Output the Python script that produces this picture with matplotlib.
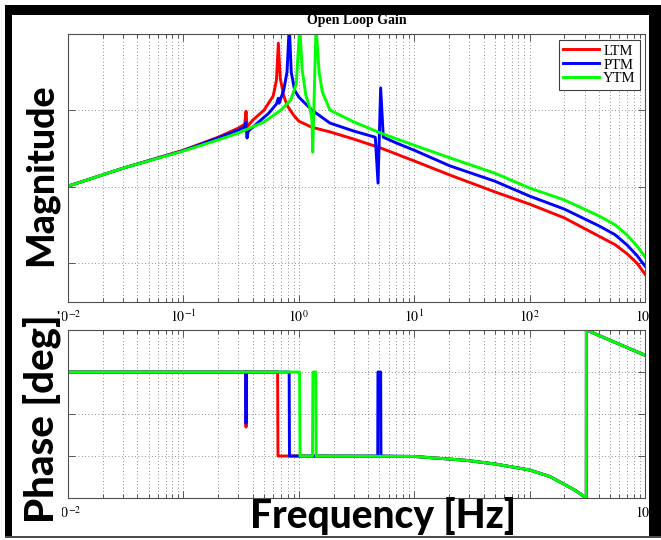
import matplotlib
matplotlib.use('Agg')
import matplotlib.pyplot as plt
from matplotlib.patches import Rectangle
from matplotlib.ticker import LogLocator, NullFormatter

plt.rcParams['font.family'] = 'Liberation Serif'
plt.rcParams['mathtext.fontset'] = 'stix'

# magnitude in dB (0 dB = upper grid line)
f_ltm = [0.01, 0.03, 0.1, 0.2, 0.3, 0.34, 0.349, 0.356, 0.4, 0.5, 0.6, 0.64, 0.665,
         0.69, 0.74, 0.8, 0.9, 1.0, 1.3, 1.86, 3.0, 5.1, 10, 20.4, 50, 100, 200, 400,
         550, 700, 850, 1000]
mag_ltm = [-19.9, -15.2, -10.5, -7.1, -4.7, -3.7, -0.3, -4.4, -2.6, 0.0, 3.7, 7.8, 17.5,
           8.4, 3.7, 1.0, -1.3, -2.9, -4.5, -5.7, -7.6, -9.9, -13.3, -17.0, -21.4, -24.6,
           -28.2, -33.0, -35.2, -37.6, -40.0, -42.9]

f_ptm = [0.01, 0.03, 0.1, 0.2, 0.3, 0.34, 0.347, 0.356, 0.365, 0.45, 0.55, 0.64, 0.665,
         0.675, 0.74, 0.79, 0.827, 0.86, 0.92, 1.0, 1.3, 1.86, 3.0, 4.6, 4.86, 5.12, 5.4,
         7.0, 10, 20.4, 50, 100, 200, 400, 550, 700, 850, 1000]
mag_ptm = [-19.9, -15.2, -10.6, -7.3, -5.2, -4.4, -3.1, -7.3, -5.5, -3.1, -0.8, 1.6, 3.1,
           1.8, 5.2, 9.9, 22.0, 9.9, 5.2, 3.4, 0.0, -3.4, -5.5, -7.1, -19.1, 5.8, -7.1,
           -8.6, -10.5, -14.6, -18.6, -22.5, -25.9, -30.3, -32.6, -35.3, -38.0, -40.8]

f_ytm = [0.01, 0.03, 0.1, 0.2, 0.3, 0.5, 0.7, 0.85, 0.95, 1.02, 1.07, 1.15, 1.25, 1.3,
         1.32, 1.41, 1.5, 1.6, 1.86, 3.0, 5.1, 10, 20.4, 50, 100, 200, 400, 550, 700,
         850, 1000]
mag_ytm = [-19.9, -15.2, -10.7, -7.8, -6.0, -3.1, 0.0, 2.6, 6.8, 22.0, 10.5, 3.9, 0.5,
           -2.6, -11.0, 22.0, 9.9, 4.7, 0.0, -3.1, -6.0, -9.2, -12.5, -16.5, -20.4, -23.5,
           -27.7, -30.0, -32.7, -35.5, -38.4]

# phase in degrees
fp_ltm = [0.01, 0.346, 0.349, 0.352, 0.655, 0.66, 1.0, 10, 27.5, 50, 100, 150, 191, 250,
          310, 310.5, 580, 1000]
ph_ltm = [90, 90, -28, 90, 90, -90, -90, -91, -99, -107, -120, -134, -148, -164,
          -180, 180, 151, 126]

fp_ptm = [0.01, 0.346, 0.349, 0.352, 0.825, 0.83, 4.83, 4.85, 5.12, 5.15, 10, 27.5, 50,
          100, 150, 191, 250, 310, 310.5, 580, 1000]
ph_ptm = [90, 90, -20, 90, 90, -90, -90, 90, 90, -90, -91, -99, -107, -120, -134, -148,
          -164, -180, 180, 151, 126]

fp_ytm = [0.01, 1.015, 1.025, 1.315, 1.325, 1.405, 1.415, 10, 27.5, 50, 100, 150, 191,
          250, 310, 310.5, 580, 1000]
ph_ytm = [90, 90, -90, -90, 90, 90, -90, -91, -99, -107, -120, -134, -148, -164,
          -180, 180, 151, 126]

names = ['LTM', 'PTM', 'YTM']
colors = ['#ff0000', '#0000ff', '#00ff00']
decades = [1e-2, 1e-1, 1e0, 1e1, 1e2, 1e3]
top_labels = ['$10^{-2}$', '$10^{-1}$', '$10^{0}$', '$10^{1}$', '$10^{2}$', '$10^{3}$']
bot_labels = ['$10^{-2}$', '', '', '', '', '$10^{3}$']

W, H = 661, 540
fig = plt.figure(figsize=(W / 100, H / 100), dpi=100)
ax1 = fig.add_axes([68 / W, 1 - 302 / H, 577 / W, 268 / H])
ax2 = fig.add_axes([68 / W, 1 - 498 / H, 577 / W, 168 / H])

for f, m, n, c in zip([f_ltm, f_ptm, f_ytm], [mag_ltm, mag_ptm, mag_ytm], names, colors):
    ax1.plot(f, m, color=c, lw=2.1, label=n)
for f, p, c in zip([fp_ltm, fp_ptm, fp_ytm], [ph_ltm, ph_ptm, ph_ytm], colors):
    ax2.plot(f, p, color=c, lw=2.1)

ax1.set_ylim(-50.2, 19.9)
ax1.set_yticks([-40, -20, 0])
ax2.set_ylim(-180, 180)
ax2.set_yticks([-90, 0, 90])

for ax, labs in [(ax1, top_labels), (ax2, bot_labels)]:
    ax.set_xscale('log')
    ax.set_xlim(1e-2, 1e3)
    ax.set_xticks(decades, labels=labs)
    ax.xaxis.set_minor_locator(LogLocator(base=10, subs=range(2, 10), numticks=20))
    ax.xaxis.set_minor_formatter(NullFormatter())
    ax.set_yticklabels([])
    ax.grid(which='both', axis='x', ls=(0, (1, 3)), lw=0.6, color='0.4')
    ax.grid(which='major', axis='y', ls=(0, (1, 3)), lw=0.6, color='0.4')
    ax.tick_params(which='both', direction='in', top=True, right=True, color='0.25', width=0.6)
    ax.tick_params(which='major', length=5, labelsize=10, pad=5)
    ax.tick_params(which='minor', length=3)
    for s in ax.spines.values():
        s.set_color('0.3')
        s.set_linewidth(0.8)

ax1.set_title('Open Loop Gain', fontsize=10, fontweight='bold', pad=7)
leg = ax1.legend(loc='upper right', bbox_to_anchor=(1 - 5 / 577, 1 - 6 / 268), borderaxespad=0,
                 fancybox=False, edgecolor='0.25', fontsize=10.5, handlelength=2.5,
                 handletextpad=0.25, labelspacing=0.05, borderpad=0.3, framealpha=1)
leg.get_frame().set_linewidth(0.8)

# big slide labels
fig.text(41 / W, 1 - 175 / H, 'Magnitude', rotation=90, ha='center', va='center',
         fontsize=27, fontweight='black', family='Lato')
fig.text(42 / W, 1 - 419 / H, 'Phase [deg]', rotation=90, ha='center', va='center',
         fontsize=29, fontweight='black', family='Lato',
         bbox=dict(facecolor='white', edgecolor='none', pad=0.5))
fig.text(383 / W, 1 - 516 / H, 'Frequency [Hz]', ha='center', va='center',
         fontsize=28, fontweight='black', family='Lato')

# slide frame
def band(x0, y0, x1, y1, c='black'):
    fig.add_artist(Rectangle((x0 / W, 1 - y1 / H), (x1 - x0) / W, (y1 - y0) / H,
                             transform=fig.transFigure, color=c, lw=0))

band(5, 5, 661, 15)
band(5, 5, 12, 537)
band(649, 5, 661, 537)
band(5, 536, 661, 538, c='0.3')

fig.savefig('out.png', dpi=100)
